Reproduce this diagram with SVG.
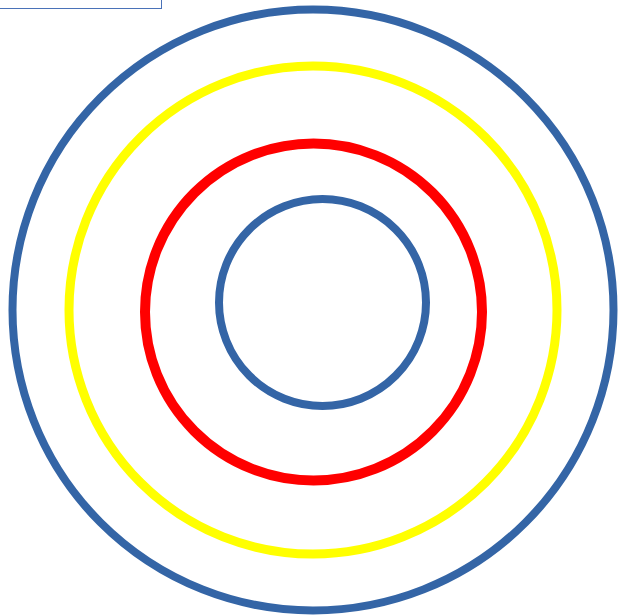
<svg xmlns="http://www.w3.org/2000/svg" width="619" height="616" viewBox="0 0 619 616">
<style>
.ring{fill:none}
.blue{stroke:#3465a6;stroke-width:8}
.yellow{stroke:#ffff00;stroke-width:9}
.red{stroke:#ff0000;stroke-width:10}
</style>
<rect x="0" y="0" width="619" height="616" fill="#ffffff"/>
<g id="box"><rect x="-2" y="-2" width="163.5" height="10.5" fill="none" stroke="#4a72b8" stroke-width="1"/></g>
<g id="outer"><circle class="ring blue" cx="313" cy="310" r="300.5"/></g>
<g id="yellow"><circle class="ring yellow" cx="313" cy="310" r="244"/></g>
<g id="red"><circle class="ring red" cx="313.5" cy="312" r="168.5"/></g>
<g id="inner"><circle class="ring blue" cx="322.5" cy="302.5" r="103.5"/></g>
<g id="connectors"></g>
</svg>
